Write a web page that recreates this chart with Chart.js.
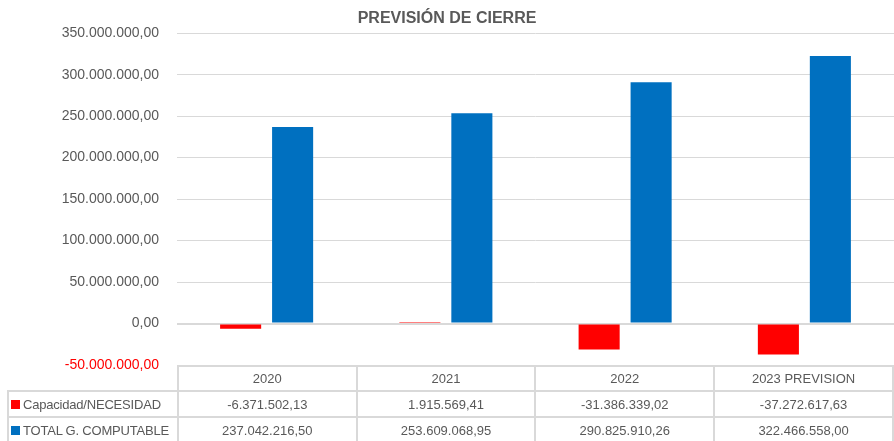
<!DOCTYPE html>
<html>
<head>
<meta charset="utf-8">
<script src="https://cdn.jsdelivr.net/npm/chart.js@4"></script>
<style>
  body { margin: 0; background: #fff; }
  #wrap { position: relative; width: 894px; height: 441px; font-family: "Liberation Sans", Arial, sans-serif; }
  #dataTable { position: absolute; left: 7px; top: 365px; border-collapse: collapse; table-layout: fixed; color: #595959; font-size: 13px; }
  #dataTable td { border: 2px solid #d9d9d9; text-align: center; padding: 0; white-space: nowrap; overflow: hidden; }
  #dataTable tr:first-child td.blank { border: none; border-bottom: 2px solid #d9d9d9; }
  #dataTable td.lbl { text-align: left; padding-left: 2px; letter-spacing: -0.2px; }
  .key { display: inline-block; width: 9px; height: 9px; margin-right: 3px; }
</style>
</head>
<body>
<div id="wrap">
  <canvas id="chart" width="894" height="441"></canvas>
  <table id="dataTable"></table>
</div>
<script>
// categories and series
const years = ['2020', '2021', '2022', '2023 PREVISION'];
const capacidad = [-6371502.13, 1915569.41, -31386339.02, -37272617.63];
const totalComputable = [237042216.50, 253609068.95, 290825910.26, 322466558.00];
const seriesNames = ['Capacidad/NECESIDAD', 'TOTAL G. COMPUTABLE'];
const seriesColors = ['#FF0000', '#0070C0'];

// spanish number format: 1.234.567,89
const fmt = (v) => {
    const neg = v < 0;
    const parts = Math.abs(v).toFixed(2).split('.');
    const intPart = parts[0].replace(/\B(?=(\d{3})+(?!\d))/g, '.');
    return (neg ? '-' : '') + intPart + ',' + parts[1];
};

const ctx = document.getElementById('chart').getContext('2d');
const myChart = new Chart(ctx, {
    type: 'bar',
    data: {
        labels: years,
        datasets: [
            { label: seriesNames[0], data: capacidad, backgroundColor: seriesColors[0] },
            { label: seriesNames[1], data: totalComputable, backgroundColor: seriesColors[1] },
        ],
    },
    options: {
        responsive: false,
        animation: false,
        categoryPercentage: 0.58,
        barPercentage: 0.79,
        layout: { padding: { left: 0, right: 0, bottom: 76 } },
        scales: {
            x: { display: false },
            y: {
                min: -50000000,
                max: 350000000,
                ticks: {
                    stepSize: 50000000,
                    padding: 18,
                    font: { family: '"Liberation Sans", Arial, sans-serif', size: 14 },
                    color: (c) => c.tick.value < 0 ? '#FF0000' : '#595959',
                    callback: (v) => fmt(v),
                },
                grid: {
                    color: '#d9d9d9',
                    lineWidth: (c) => c.tick && c.tick.value === 0 ? 2 : 1,
                    drawTicks: false,
                },
                border: { display: false },
                afterFit: (scale) => { scale.width = 177; },
            },
        },
        plugins: {
            legend: { display: false },
            tooltip: { enabled: false },
            title: {
                display: true,
                text: 'PREVISIÓN DE CIERRE',
                color: '#595959',
                font: { family: '"Liberation Sans", Arial, sans-serif', size: 16, weight: 'bold' },
                padding: { top: 9, bottom: 5 },
            },
        },
    },
});

// data table under the plot, columns follow the chart area
const area = myChart.chartArea;
const colW = (area.right - area.left) / years.length;
const table = document.getElementById('dataTable');
table.style.top = area.bottom + 'px';
let html = '<colgroup><col style="width:' + (area.left - 7) + 'px">';
years.forEach(() => { html += '<col style="width:' + colW + 'px">'; });
html += '</colgroup><tr style="height:25px"><td class="blank"></td>';
years.forEach((y) => { html += '<td>' + y + '</td>'; });
html += '</tr>';
[capacidad, totalComputable].forEach((vals, i) => {
    html += '<tr style="height:26px"><td class="lbl"><span class="key" style="background:' + seriesColors[i] + '"></span>' + seriesNames[i] + '</td>';
    vals.forEach((v) => { html += '<td>' + fmt(v) + '</td>'; });
    html += '</tr>';
});
table.innerHTML = html;
</script>
</body>
</html>
